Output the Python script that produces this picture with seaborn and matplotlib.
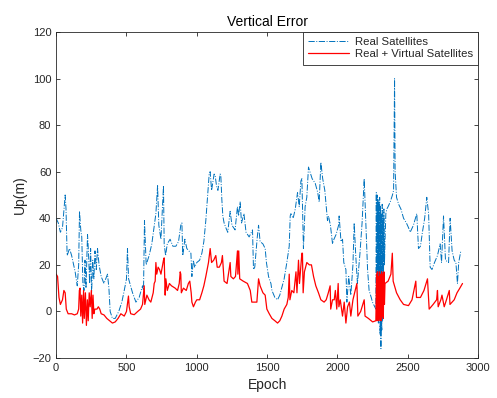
import numpy as np
import matplotlib
matplotlib.use("Agg")
import matplotlib.pyplot as plt
import pandas as pd
import seaborn as sns

# epoki i bledy pionowe - same satelity rzeczywiste
real_epoch = [0, 15, 30, 45, 64, 70, 78, 95, 110, 135, 150, 160, 166, 175, 182, 190, 198, 205,
              212, 223, 230, 238, 245, 252, 260, 268, 276, 285, 294, 305, 320, 340, 365, 375,
              384, 400, 420, 445, 467, 484, 500, 507, 515, 543, 567, 590, 614, 621, 628, 640,
              661, 680, 700, 709, 721, 730, 745, 763, 768, 778, 790, 810, 830, 851, 870, 886,
              894, 900, 915, 929, 958, 965, 975, 985, 1000, 1020, 1036, 1050, 1064, 1075, 1088,
              1095, 1105, 1123, 1131, 1140, 1150, 1166, 1171, 1178, 1185, 1194, 1206, 1220, 1237,
              1250, 1272, 1289, 1297, 1308, 1318, 1335, 1350, 1372, 1396, 1403, 1412, 1420, 1430,
              1439, 1450, 1470, 1486, 1495, 1510, 1527, 1534, 1555, 1574, 1590, 1621, 1640, 1657,
              1664, 1669, 1685, 1700, 1716, 1728, 1740, 1747, 1758, 1770, 1782, 1794, 1799, 1820,
              1842, 1860, 1870, 1882, 1895, 1910, 1929, 1936, 1950, 1965, 1975, 1990, 2008, 2012,
              2025, 2036, 2045, 2060, 2067, 2080, 2095, 2110, 2119, 2130, 2142, 2160, 2175, 2190,
              2198, 2214, 2225, 2240, 2249, 2265, 2273, 2276, 2279, 2282, 2285, 2288, 2291, 2294,
              2297, 2300, 2303, 2306, 2309, 2312, 2315, 2318, 2321, 2324, 2327, 2330, 2334, 2338,
              2344, 2351, 2360, 2375, 2391, 2399, 2406, 2410, 2420, 2435, 2451, 2470, 2490, 2505,
              2517, 2540, 2564, 2576, 2590, 2604, 2620, 2635, 2648, 2659, 2672, 2690, 2711, 2730,
              2740, 2754, 2768, 2790, 2801, 2815, 2830, 2842, 2853, 2862, 2877]
real_up = [40, 38, 34, 36, 50, 44, 24, 27, 24, 17, 11, 20, 43, 35, 32, 12, 9, 22,
           10, 33, 25, 12, 27, 8, 22, 14, 26, 18, 27, 20, 15, 12, 16, 10,
           0, -3, -3, 0, 4, 9, 14, 27, 14, 8, 4, 6, 11, 9, 39, 20,
           24, 29, 38, 42, 54, 37, 31, 54, 29, 24, 29, 31, 28, 28, 30, 37,
           38, 24, 31, 27, 25, 15, 22, 19, 21, 22, 25, 30, 39, 48, 59,
           60, 52, 59, 58, 54, 52, 59, 58, 48, 41, 38, 36, 34, 43,
           37, 35, 45, 41, 47, 38, 42, 34, 32, 35, 18, 19, 25, 32,
           37, 30, 29, 27, 21, 15, 12, 9, 6, 5, 7, 14, 21, 28,
           41, 42, 40, 44, 51, 45, 56, 57, 27, 45, 49, 62, 61, 57,
           55, 51, 47, 64, 57, 52, 39, 41, 37, 29, 31, 33, 37, 41,
           30, 31, 21, 18, 4, 15, 7, 20, 38, 24, 12, 25, 38, 57,
           44, 18, 9, 6, 4, 2, 1, 51, 5, 50, 0, 48, -5, 47,
           -3, 49, -10, 45, -16, 42, -8, 46, -4, 40, 10, 44, 20, 30,
           42, 44, 45, 47, 50, 52, 100, 60, 49, 46, 44, 40, 38, 36,
           34, 37, 42, 27, 28, 34, 40, 49, 42, 19, 18, 21, 24, 29,
           21, 41, 22, 21, 40, 26, 22, 21, 12, 21, 26]

# satelity rzeczywiste + wirtualne
virt_epoch = [0, 10, 20, 30, 45, 55, 64, 72, 85, 110, 130, 150, 160, 165, 170, 175, 182, 188,
              195, 200, 208, 215, 222, 228, 235, 242, 250, 256, 262, 268, 275, 290, 300, 310,
              320, 340, 360, 380, 400, 420, 440, 460, 484, 500, 514, 519, 530, 555, 580, 600,
              614, 626, 630, 645, 660, 673, 690, 697, 704, 709, 715, 725, 735, 745, 763, 768,
              775, 780, 790, 805, 820, 846, 863, 875, 882, 886, 890, 905, 925, 940, 950, 960,
              965, 976, 990, 1000, 1020, 1036, 1050, 1064, 1083, 1095, 1105, 1120, 1135, 1145,
              1160, 1175, 1182, 1194, 1215, 1237, 1242, 1260, 1275, 1289, 1292, 1298, 1305, 1330,
              1360, 1380, 1391, 1410, 1427, 1439, 1450, 1470, 1486, 1498, 1515, 1534, 1555, 1574,
              1590, 1605, 1621, 1640, 1650, 1657, 1662, 1675, 1690, 1705, 1712, 1723, 1730, 1747,
              1751, 1756, 1765, 1782, 1800, 1815, 1830, 1846, 1865, 1882, 1905, 1920, 1935, 1948,
              1952, 1965, 1977, 1985, 1995, 2005, 2010, 2020, 2036, 2048, 2060, 2072, 2085, 2095,
              2110, 2138, 2145, 2165, 2190, 2196, 2220, 2250, 2273, 2278, 2281, 2284, 2287, 2290,
              2294, 2298, 2302, 2306, 2310, 2314, 2318, 2322, 2326, 2330, 2334, 2338, 2360, 2380,
              2390, 2396, 2420, 2446, 2470, 2505, 2530, 2557, 2562, 2590, 2615, 2640, 2652, 2680,
              2705, 2711, 2716, 2735, 2743, 2759, 2775, 2795, 2800, 2830, 2850, 2870, 2889]
virt_up = [16, 15, 6, 3, 5, 9, 8, 1, -1, -1, -1.5, -1, 1, 9, 10, -2, 7, -5,
           9, -3, 8, -6, 5, -4, 8, 2, 9, -3, 7, -1, 1, 1, 2, 1,
           -1, -1.5, -3, -4, -5, -4.5, -3, -1, -2, 0, 6.6, 2, -1, -1.4, 0, 1,
           3, 11, 3, 7, 5, 4, 8, 12, 13, 21, 16, 19, 18, 16, 22, 23,
           7, 14, 9, 12, 11, 10, 9, 12, 17, 16, 8, 10, 9, 12, 13, 8,
           4, 2, 4, 5, 5, 8, 11, 15, 21, 27, 21, 22, 24, 19,
           19, 21, 24, 13, 12, 21, 15, 14, 15, 26, 16, 26, 14, 13,
           12, 9, 4, 4, 4, 14, 11, 8, 7, 1, -1, -3, -4, -5,
           -4, -2, 1, 3, 6, 16, 5, 9, 8, 17, 8, 22, 12, 25,
           25, 8, 17, 21, 20, 20, 15, 11, 8, 5, 4, 5, 8, 11,
           1, 5, 5, 9, 1, 12, 2, 5, -2, 4, -5, 2, 4, -2,
           5, 12, -2, 0, 5, -2, -3, -4.5, -4, 16, -4, 17, -3, 15,
           -4, 17, -3, 16, -4, 17, -2, 16, -3, 17, 3, 12, 13, 16,
           25, 13, 8, 5, 3, 2.5, 5, 13, 6, 6, 9, 14, 1, 3,
           5, 9, 2, 5, 7, 2, 5, 9, 3, 5, 8, 10, 12]

df_real = pd.DataFrame({"Epoch": real_epoch, "Up": real_up})
df_virt = pd.DataFrame({"Epoch": virt_epoch, "Up": virt_up})

sns.set_style("ticks")
plt.rcParams['font.family'] = ['Liberation Sans', 'DejaVu Sans']
dark = '#262626'

fig = plt.figure(figsize=(4.97, 3.98), dpi=100)
ax = fig.add_axes([0.113, 0.1005, 0.849, 0.8191])

sns.lineplot(data=df_real, x="Epoch", y="Up", ax=ax, color='#0072BD', linestyle='-.',
             linewidth=0.7, estimator=None, sort=False, label='Real Satellites')
sns.lineplot(data=df_virt, x="Epoch", y="Up", ax=ax, color='red', linestyle='-',
             linewidth=0.9, estimator=None, sort=False, label='Real + Virtual Satellites')

ax.set_xlim(0, 3000)
ax.set_ylim(-20, 120)
ax.set_xticks(np.arange(0, 3001, 500))
ax.set_yticks(np.arange(-20, 121, 20))
ax.tick_params(direction='in', top=True, right=True, labelsize=8, colors=dark,
               length=3, width=0.6)
for s in ax.spines.values():
    s.set_visible(True)
    s.set_color(dark)
    s.set_linewidth(0.6)
ax.set_title("Vertical Error", fontsize=10, color='black', pad=4)
ax.set_xlabel("Epoch", fontsize=10, color=dark, labelpad=4)
ax.set_ylabel("Up(m)", fontsize=10, color=dark, labelpad=4)

leg = ax.legend(loc='upper right', borderaxespad=0, fontsize=8.2, frameon=True, fancybox=False,
                handlelength=3.6, borderpad=0.45, labelspacing=0.2, handletextpad=0.5)
leg.get_frame().set_edgecolor(dark)
leg.get_frame().set_linewidth(0.6)
leg.get_frame().set_alpha(1)

fig.savefig("out.png", dpi=100)
